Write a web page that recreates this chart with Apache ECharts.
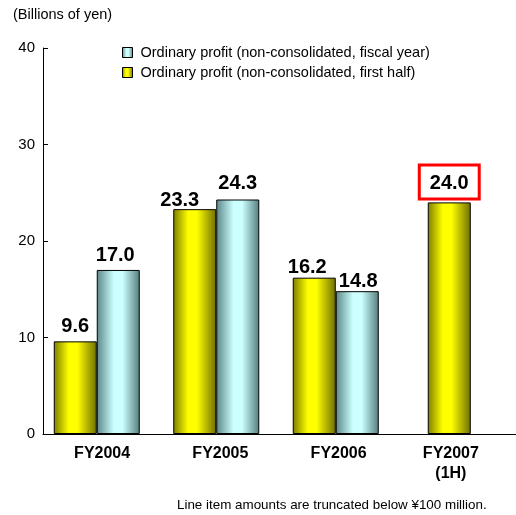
<!DOCTYPE html>
<html>
<head>
<meta charset="utf-8">
<script src="https://cdn.jsdelivr.net/npm/echarts@6/dist/echarts.min.js"></script>
<style>
  html, body { margin: 0; padding: 0; background: #fff; }
  #chart { width: 516px; height: 515px; }
</style>
</head>
<body>
<div id="chart"></div>
<script>
// Ordinary profit, non-consolidated (billions of yen)
const categories = ['FY2004', 'FY2005', 'FY2006', 'FY2007\n(1H)'];
const firstHalf = [9.6, 23.3, 16.2, 24.0];
const fiscalYear = [17.0, 24.3, 14.8, null];
const yTicks = { min: 0, max: 40, interval: 10 };

const nameFirstHalf = 'Ordinary profit (non-consolidated, first half)';
const nameFiscalYear = 'Ordinary profit (non-consolidated, fiscal year)';

// label nudges so the numbers sit clear of each other
const firstHalfLabelOffset = [[0, 0], [-15, 6], [-7, 5], [0, 0]];
const fiscalYearLabelOffset = [[-3, 1], [0, -1], [1, 5], [0, 0]];

const FONT = '"Liberation Sans", Arial, sans-serif';

const yellowFill = new echarts.graphic.LinearGradient(0, 0, 1, 0, [
  { offset: 0, color: '#7d7d00' },
  { offset: 0.35, color: '#ffff00' },
  { offset: 0.55, color: '#ffff00' },
  { offset: 1, color: '#6e6e00' }
]);
const cyanFill = new echarts.graphic.LinearGradient(0, 0, 1, 0, [
  { offset: 0, color: '#5b8787' },
  { offset: 0.4, color: '#ccffff' },
  { offset: 0.6, color: '#ccffff' },
  { offset: 1, color: '#537d7d' }
]);

const valueLabel = {
  show: true,
  position: 'top',
  distance: 5,
  color: '#000',
  fontFamily: FONT,
  fontWeight: 'bold',
  fontSize: 20,
  formatter: p => p.value.toFixed(1)
};

// full-year figures exist for every period but the current half
const isFullYear = fiscalYear.map(v => v !== null);

const firstHalfPaired = firstHalf.map((v, i) => isFullYear[i]
  ? { value: v, label: { offset: firstHalfLabelOffset[i] } } : null);
const fiscalPaired = fiscalYear.map((v, i) => v === null ? null
  : { value: v, label: { offset: fiscalYearLabelOffset[i] } });
const firstHalfOnly = firstHalf.map((v, i) => isFullYear[i] ? null : v);

const gridTop = 48, gridBottom = 81;

const option = {
  animation: false,
  backgroundColor: '#fff',
  title: {
    text: '(Billions of yen)',
    left: 8, top: 2,
    textStyle: { fontFamily: FONT, fontSize: 14.5, fontWeight: 'normal', color: '#000' }
  },
  legend: {
    data: [nameFiscalYear, nameFirstHalf],
    orient: 'vertical',
    left: 117, top: 40,
    itemWidth: 10, itemHeight: 10, itemGap: 5,
    icon: 'rect',
    itemStyle: { borderColor: '#000', borderWidth: 1 },
    textStyle: { fontFamily: FONT, fontSize: 14.5, color: '#000', padding: [0, 0, 0, 3] },
    selectedMode: false
  },
  graphic: [{
    type: 'text',
    left: 177, top: 499,
    style: {
      text: 'Line item amounts are truncated below ¥100 million.',
      font: '13.4px "Liberation Sans", Arial, sans-serif',
      fill: '#000'
    }
  }],
  grid: [
    { left: 43, right: -5, top: gridTop, bottom: gridBottom },
    { left: 37, right: 1, top: gridTop, bottom: gridBottom },
    { left: 31, right: 7, top: gridTop, bottom: gridBottom }
  ],
  xAxis: [
    {
      type: 'category', gridIndex: 0, data: categories,
      axisLine: { lineStyle: { color: '#000', width: 1 } },
      axisTick: { inside: true, length: 5, lineStyle: { color: '#000' } },
      axisLabel: {
        margin: 10,
        color: '#000',
        fontFamily: FONT, fontWeight: 'bold', fontSize: 16, lineHeight: 20,
        formatter: (v, i) => i === 3 ? '{s|' + v.replace('\n', '}\n{s|') + '}' : v,
        rich: { s: { fontFamily: FONT, fontWeight: 'bold', fontSize: 16, lineHeight: 20, padding: [0, 12, 0, 0] } }
      }
    },
    { type: 'category', gridIndex: 1, data: categories, show: false },
    { type: 'category', gridIndex: 2, data: categories, show: false }
  ],
  yAxis: [
    {
      type: 'value', gridIndex: 0, min: yTicks.min, max: yTicks.max, interval: yTicks.interval,
      splitLine: { show: false },
      axisLine: { show: true, lineStyle: { color: '#000', width: 1 } },
      axisTick: { show: true, inside: true, length: 5, lineStyle: { color: '#000' } },
      axisLabel: { margin: 8, color: '#000', fontFamily: FONT, fontSize: 15 }
    },
    { type: 'value', gridIndex: 1, min: yTicks.min, max: yTicks.max, show: false },
    { type: 'value', gridIndex: 2, min: yTicks.min, max: yTicks.max, show: false }
  ],
  series: [
    {
      name: nameFirstHalf, type: 'bar', xAxisIndex: 1, yAxisIndex: 1,
      data: firstHalfPaired, barWidth: 43, barGap: '0%',
      itemStyle: { color: yellowFill, borderColor: '#000', borderWidth: 1 },
      label: valueLabel
    },
    {
      name: nameFiscalYear, type: 'bar', xAxisIndex: 1, yAxisIndex: 1,
      data: fiscalPaired, barWidth: 43, barGap: '0%',
      itemStyle: { color: cyanFill, borderColor: '#000', borderWidth: 1 },
      label: valueLabel
    },
    {
      name: nameFirstHalf, type: 'bar', xAxisIndex: 2, yAxisIndex: 2,
      data: firstHalfOnly, barWidth: 43,
      itemStyle: { color: yellowFill, borderColor: '#000', borderWidth: 1 },
      label: Object.assign({}, valueLabel, {
        distance: 5,
        backgroundColor: '#fff',
        borderColor: '#ff0000',
        borderWidth: 3,
        padding: [7, 9, 4, 9]
      })
    }
  ]
};

const chart = echarts.init(document.getElementById('chart'), null, { renderer: 'canvas' });
chart.setOption(option);
</script>
</body>
</html>
